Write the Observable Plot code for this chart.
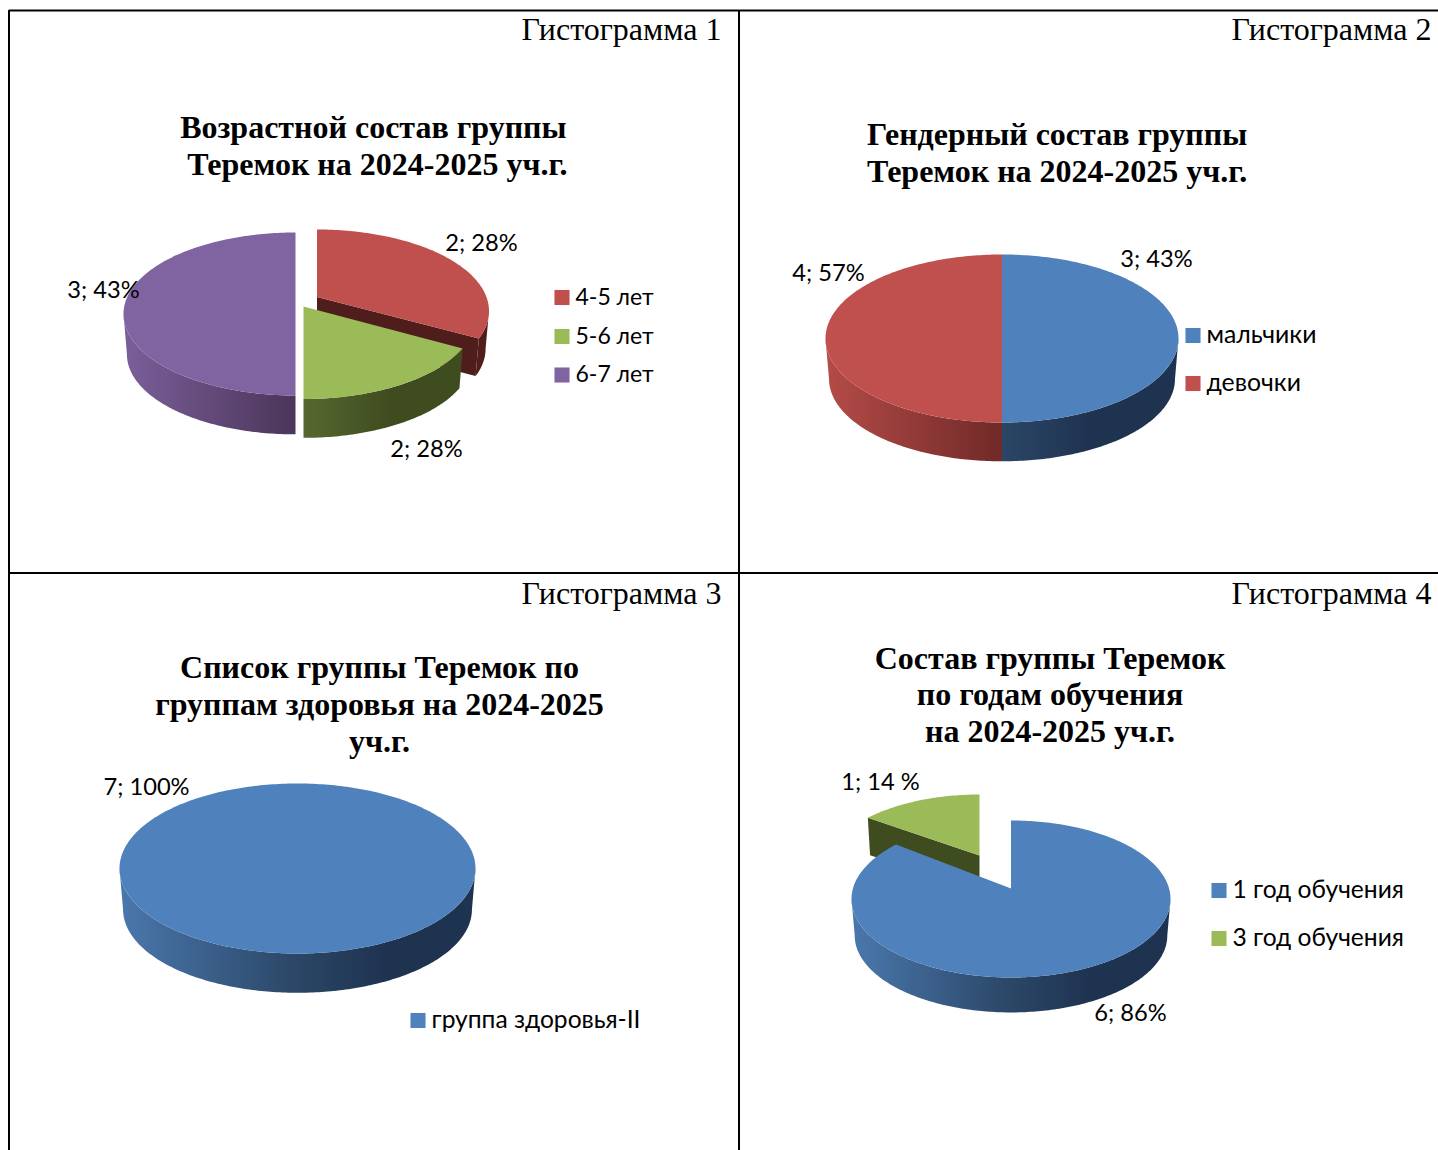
<!DOCTYPE html>
<html lang="ru">
<head>
<meta charset="utf-8">
<style>html,body{margin:0;padding:0;background:#fff}svg{display:block}</style>
<script src="https://cdn.jsdelivr.net/npm/d3@7"></script>
<script src="https://cdn.jsdelivr.net/npm/@observablehq/plot@0.6"></script>
</head>
<body>
<script>
// ---------- Data ----------
const ageCategories = ["4-5 лет", "5-6 лет", "6-7 лет"];
const ageCounts = [2, 2, 3];
const agePercents = ["28%", "28%", "43%"];
const ageDrawnShares = [30.5, 19.5, 50];          // slice sizes as actually drawn

const genderCategories = ["мальчики", "девочки"];
const genderCounts = [3, 4];
const genderPercents = ["43%", "57%"];
const genderDrawnShares = [50, 50];

const healthCategories = ["группа здоровья-II"];
const healthCounts = [7];
const healthPercents = ["100%"];
const healthDrawnShares = [100];

const yearCategories = ["1 год обучения", "3 год обучения"];
const yearCounts = [6, 1];
const yearPercents = ["86%", "14 %"];
const yearDrawnShares = [87.2, 12.8];

const panelCaptions = ["Гистограмма 1", "Гистограмма 2", "Гистограмма 3", "Гистограмма 4"];
const titleLines1 = ["Возрастной состав группы", "Теремок на 2024-2025 уч.г."];
const titleLines2 = ["Гендерный состав группы", "Теремок на 2024-2025 уч.г."];
const titleLines3 = ["Список группы Теремок по", "группам здоровья на 2024-2025", "уч.г."];
const titleLines4 = ["Состав группы Теремок", "по годам обучения", "на 2024-2025 уч.г."];

// ---------- Styles and layout ----------
const W = 1438, H = 1150;
const SERIF = "'Liberation Serif','Times New Roman',serif";
const SANS = "Lato,'Noto Sans',sans-serif";
const hues = {
  blue:   {top: "#4f81bd", stops: ["#4a78ad", "#2b4666", "#1e3350", "#1e3350"]},
  red:    {top: "#c0504d", stops: ["#b44b48", "#702a28", "#4f1e1c", "#4f1e1c"]},
  green:  {top: "#9bbb59", stops: ["#7f9a48", "#56682e", "#3f4c20", "#3f4c20"]},
  purple: {top: "#8064a2", stops: ["#7a5f9a", "#4b3559", "#3f2c4c", "#3f2c4c"]}
};
const pies = [
  {id: "p1", shares: ageDrawnShares, rx: 172, ry: 81.5, depth: 40.5, slices: [
    {hue: "red", cx: 316.5, cy: 310.5, apexDy: -14, depth: 38, cut: "end"},
    {hue: "green", cx: 303, cy: 317, apexDy: -11, startShift: 2.5},
    {hue: "purple", cx: 295, cy: 313.5, apexDy: 0}
  ]},
  {id: "p2", shares: genderDrawnShares, rx: 176.5, ry: 84, depth: 40.5, slices: [
    {hue: "blue", cx: 1001.5, cy: 338, apexDy: 0},
    {hue: "red", cx: 1001.5, cy: 338, apexDy: 0}
  ]},
  {id: "p3", shares: healthDrawnShares, rx: 178, ry: 85, depth: 41, slices: [
    {hue: "blue", cx: 297, cy: 868, apexDy: 0}
  ]},
  {id: "p4", shares: yearDrawnShares, rx: 159.5, ry: 78.5, depth: 36.5, order: [1, 0], slices: [
    {hue: "blue", cx: 1010.5, cy: 898.5, apexDy: -10.5},
    {hue: "green", cx: 979, cy: 870, rx: 155, ry: 76, apexDy: -15, cut: "start"}
  ]}
];
const bottomShrink = 0.98;

// ---------- Turn shares into polygons, drawn through the x and y scales ----------
const rad = d => d * Math.PI / 180;
const onTop = (s, p, a) => ({x: s.cx + (s.rx ?? p.rx) * Math.sin(rad(a)), y: s.cy - (s.ry ?? p.ry) * Math.cos(rad(a))});
const onBottom = (s, p, a) => ({
  x: s.cx + (s.rx ?? p.rx) * bottomShrink * Math.sin(rad(a)),
  y: s.cy + (s.depth ?? p.depth) - (s.ry ?? p.ry) * bottomShrink * Math.cos(rad(a))
});
const arc = (a0, a1) => {
  const n = Math.max(1, Math.ceil(Math.abs(a1 - a0)));
  return d3.range(n + 1).map(i => a0 + (a1 - a0) * i / n);
};
function pieFaces(p) {
  let start = 0;
  const spans = p.shares.map(v => { const r = [start, start + v * 3.6]; start = r[1]; return r; });
  const order = p.order ?? p.slices.map((_, i) => i);
  const faces = [];
  for (const i of order) {
    const s = p.slices[i], a1 = spans[i][1], a0 = spans[i][0] + (s.startShift ?? 0);
    const full = a1 - a0 >= 359.9;
    const depth = s.depth ?? p.depth;
    const apex = {x: s.cx, y: s.cy + s.apexDy};
    if (s.cut) {
      const a = s.cut === "end" ? a1 : a0;
      faces.push({fill: hues[s.hue].stops[3], pts: [
        apex, onTop(s, p, a), onBottom(s, p, a),
        {x: apex.x, y: apex.y + depth}
      ]});
    }
    const w0 = Math.max(a0, 90), w1 = Math.min(a1, 270);
    if (w1 > w0) {
      faces.push({fill: `url(#${p.id}-${s.hue})`, pts: [
        ...arc(w0, w1).map(a => onTop(s, p, a)),
        ...arc(w1, w0).map(a => onBottom(s, p, a))
      ]});
    }
    faces.push({fill: hues[s.hue].top, pts: full
      ? arc(0, 360).map(a => onTop(s, p, a))
      : [apex, ...arc(a0, a1).map(a => onTop(s, p, a))]});
  }
  return faces;
}
const faces = pies.flatMap(pieFaces);

// gradient definitions used by the side walls
function gradients() {
  const defs = d3.create("svg:defs");
  for (const p of pies) for (const s of p.slices) {
    const g = defs.append("linearGradient")
      .attr("id", `${p.id}-${s.hue}`).attr("gradientUnits", "userSpaceOnUse")
      .attr("x1", s.cx - p.rx).attr("x2", s.cx + p.rx).attr("y1", 0).attr("y2", 0);
    hues[s.hue].stops.forEach((c, i) =>
      g.append("stop").attr("offset", [0, 0.5, 0.75, 1][i]).attr("stop-color", c));
  }
  return defs.node();
}

// ---------- Text rows ----------
const captionRows = panelCaptions.map((text, i) => ({text, x: [721, 1431, 721, 1431][i], y: [29, 29, 593, 593][i]}));
const titleRows = [
  ...titleLines1.map((text, i) => ({text, x: [372.8, 376.8][i], y: 127 + 37 * i})),
  ...titleLines2.map((text, i) => ({text, x: 1056.6, y: 134 + 37 * i})),
  ...titleLines3.map((text, i) => ({text, x: 379, y: 667 + 37 * i})),
  ...titleLines4.map((text, i) => ({text, x: 1049.5, y: 658 + 36.5 * i}))
];
const lbl = (c, p) => `${c}; ${p}`;
const dataLabelRows = [
  {text: lbl(ageCounts[0], agePercents[0]), x: 481, y: 243},
  {text: lbl(ageCounts[1], agePercents[1]), x: 426, y: 449},
  {text: lbl(ageCounts[2], agePercents[2]), x: 103, y: 290},
  {text: lbl(genderCounts[0], genderPercents[0]), x: 1156, y: 259},
  {text: lbl(genderCounts[1], genderPercents[1]), x: 828, y: 273},
  {text: lbl(healthCounts[0], healthPercents[0]), x: 146, y: 787},
  {text: lbl(yearCounts[0], yearPercents[0]), x: 1130, y: 1013},
  {text: lbl(yearCounts[1], yearPercents[1]), x: 880, y: 782}
];
const legendRows = [
  ...ageCategories.map((text, i) => ({text, size: 23, hue: ["red", "green", "purple"][i], x: 561.5, y: [297, 336, 374.5][i]})),
  ...genderCategories.map((text, i) => ({text, size: 24.8, hue: ["blue", "red"][i], x: 1192.5, y: [335, 383][i]})),
  ...healthCategories.map((text, i) => ({text, size: 24.6, hue: "blue", x: 417.5, y: 1020})),
  ...yearCategories.map((text, i) => ({text, size: 24.6, hue: ["blue", "green"][i], x: 1218.5, y: [890, 938][i]}))
];

// ---------- Chart ----------
const chart = Plot.plot({
  width: W, height: H, margin: 0,
  style: {background: "#fff"},
  x: {domain: [0, W], range: [0, W], axis: null},
  y: {domain: [0, H], range: [0, H], axis: null},
  marks: [
    gradients,
    ...faces.map(f => Plot.line(f.pts, {x: "x", y: "y", fill: f.fill, stroke: "none"})),
    Plot.ruleX([8.5, 738.5], {y1: 10, y2: H, stroke: "#000", strokeWidth: 2}),
    Plot.ruleY([10, 572.5], {x1: 9, x2: W, stroke: "#000", strokeWidth: 2}),
    Plot.text(captionRows, {x: "x", y: "y", text: "text", textAnchor: "end", fontFamily: SERIF, fontSize: 32, fill: "#000"}),
    Plot.text(titleRows, {x: "x", y: "y", text: "text", fontFamily: SERIF, fontWeight: 700, fontSize: 32, fill: "#000"}),
    Plot.text(dataLabelRows, {x: "x", y: "y", text: "text", fontFamily: SANS, fontSize: 23.7, fill: "#000"}),
    Plot.dot(legendRows, {x: "x", y: "y", r: 8.5, symbol: "square", fill: d => hues[d.hue].top, stroke: "none"}),
    Plot.text(legendRows, {x: d => d.x + 13.5, y: "y", text: "text", textAnchor: "start", fontFamily: SANS, fontSize: "size", fill: "#000"})
  ],
  color: {type: "identity"}
});
document.body.append(chart);
</script>
</body>
</html>
